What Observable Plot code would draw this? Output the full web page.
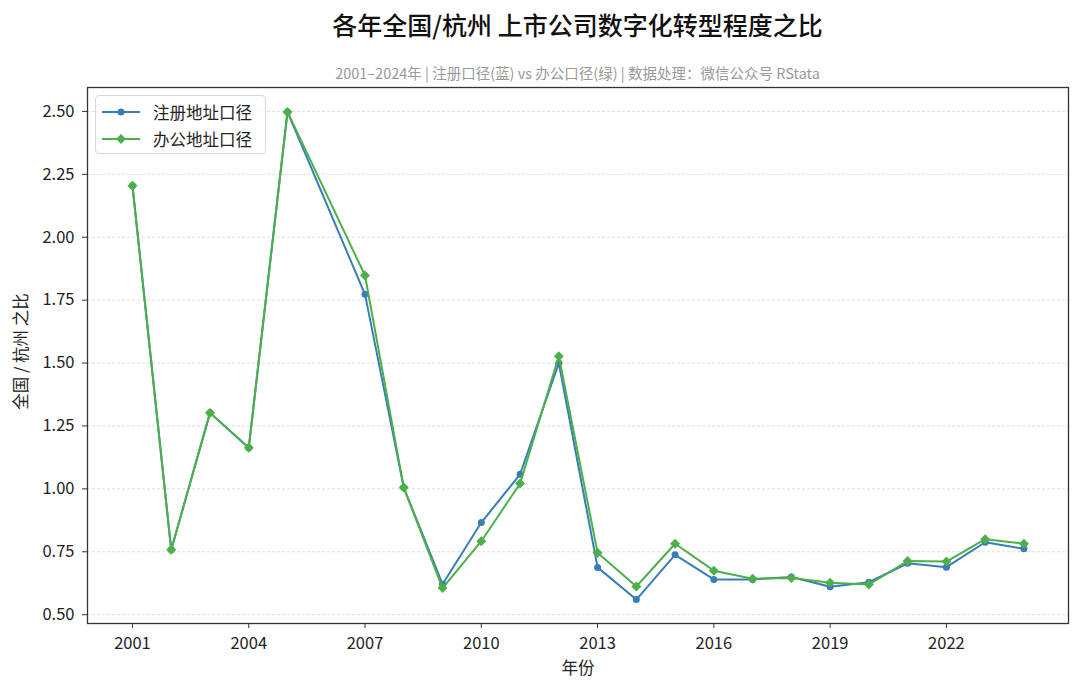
<!DOCTYPE html>
<html><head><meta charset="utf-8">
<script src="https://cdn.jsdelivr.net/npm/d3@7"></script>
<script src="https://cdn.jsdelivr.net/npm/@observablehq/plot@0.6"></script>
<style>
body{margin:0;background:#fff;font-family:"Noto Sans CJK SC","Noto Sans",sans-serif;}
#wrap{position:relative;width:1080px;height:690px;overflow:hidden;}
#head{position:relative;height:85px;}
#title{position:absolute;left:87px;width:981px;top:6px;text-align:center;font-size:25px;font-weight:500;color:#111;}
#sub{position:absolute;left:87px;width:981px;top:64px;text-align:center;font-size:14.5px;line-height:18px;color:#999;}
#legend{position:absolute;left:95px;top:95px;width:169px;height:57px;border:1px solid #d8d8d8;border-radius:4px;background:rgba(255,255,255,0.85);font-size:16.5px;color:#222;}
.item{position:absolute;left:5px;height:24px;display:flex;align-items:center;}
.item svg{margin-right:12px;}
</style></head>
<body>
<div id="wrap">
  <div id="head"><div id="title"></div><div id="sub"></div></div>
  <div id="chart"></div>
  <div id="legend"></div>
</div>
<script>
const titleText = "各年全国/杭州 上市公司数字化转型程度之比";
const subtitleText = "2001–2024年 | 注册口径(蓝) vs 办公口径(绿) | 数据处理：微信公众号 RStata";
const xLabel = "年份";
const yLabel = "全国 / 杭州 之比";
const seriesNames = ["注册地址口径", "办公地址口径"];
const seriesColors = ["#377eb8", "#4daf4a"];

const years = [2001,2002,2003,2004,2005,2007,2008,2009,2010,2011,2012,2013,2014,2015,2016,2017,2018,2019,2020,2021,2022,2023,2024];
const regRatio = [2.205,0.758,1.302,1.163,2.498,1.773,1.005,0.621,0.866,1.058,1.500,0.688,0.560,0.738,0.640,0.640,0.650,0.611,0.629,0.704,0.689,0.788,0.762];
const officeRatio = [2.205,0.758,1.302,1.163,2.498,1.848,1.005,0.606,0.792,1.021,1.527,0.746,0.612,0.782,0.675,0.643,0.646,0.627,0.620,0.713,0.711,0.800,0.782];
const xTicks = [2001,2004,2007,2010,2013,2016,2019,2022];
const yTicks = [0.50,0.75,1.00,1.25,1.50,1.75,2.00,2.25,2.50];

document.getElementById("title").textContent = titleText;
document.getElementById("sub").textContent = subtitleText;

const reg = years.map((y,i)=>({year:y, v:regRatio[i]}));
const office = years.map((y,i)=>({year:y, v:officeRatio[i]}));
const font = '"Noto Sans CJK SC","Noto Sans",sans-serif';

const chart = Plot.plot({
  width:1080, height:605,
  marginTop:2, marginBottom:67, marginLeft:87, marginRight:12,
  style:{fontFamily:font, fontSize:"16.5px", color:"#222", background:"#fff", overflow:"visible"},
  x:{domain:[1999.84,2025.15], label:null},
  y:{domain:[0.465,2.595], label:null},
  marks:[
    Plot.gridY(yTicks,{stroke:"#cfcfcf", strokeOpacity:1, strokeWidth:0.7, strokeDasharray:"3,2"}),
    Plot.axisX(xTicks,{tickSize:5, tickPadding:9, fontSize:16.5, tickFormat:d=>String(d), label:null, stroke:"#333"}),
    Plot.axisY(yTicks,{tickSize:5, tickPadding:8, fontSize:16.5, tickFormat:d3.format(".2f"), label:null, stroke:"#333"}),
    Plot.line(reg,{x:"year", y:"v", stroke:seriesColors[0], strokeWidth:2}),
    Plot.dot(reg,{x:"year", y:"v", r:3.5, fill:seriesColors[0], stroke:"none"}),
    Plot.line(office,{x:"year", y:"v", stroke:seriesColors[1], strokeWidth:2}),
    Plot.dot(office,{x:"year", y:"v", r:4.5, symbol:"diamond2", fill:seriesColors[1], stroke:"none"}),
    Plot.frame({stroke:"#333", strokeWidth:1.3}),
    Plot.text([xLabel],{frameAnchor:"bottom", lineAnchor:"middle", dy:45, fontSize:16.5, fill:"#222"}),
    Plot.text([yLabel],{frameAnchor:"left", textAnchor:"middle", lineAnchor:"middle", dx:-66, dy:-4, rotate:-90, fontSize:16.5, fill:"#222"})
  ]
});
document.getElementById("chart").appendChild(chart);

const legend = document.getElementById("legend");
seriesNames.forEach((name,i)=>{
  const div = document.createElement("div");
  div.className = "item";
  div.style.top = (4 + i*27) + "px";
  const marker = i===0
    ? `<circle cx="20" cy="12" r="3.5" fill="${seriesColors[i]}"/>`
    : `<path d="M20,7L25,12L20,17L15,12Z" fill="${seriesColors[i]}"/>`;
  div.innerHTML = `<svg width="40" height="24"><line x1="1" x2="39" y1="12" y2="12" stroke="${seriesColors[i]}" stroke-width="2"/>${marker}</svg><span>${name}</span>`;
  legend.appendChild(div);
});
</script>
</body></html>
